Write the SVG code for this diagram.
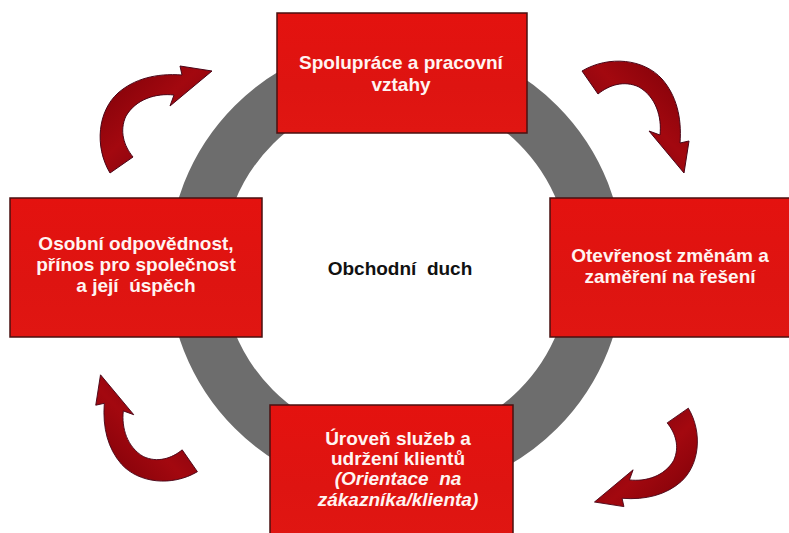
<svg xmlns="http://www.w3.org/2000/svg" width="789" height="533" viewBox="0 0 789 533">
<defs>
<linearGradient id="boxg" x1="0" y1="0" x2="0" y2="1">
<stop offset="0" stop-color="#e4120f"/>
<stop offset="0.6" stop-color="#de1411"/>
<stop offset="1" stop-color="#e01612"/>
</linearGradient>
<linearGradient id="arrg" x1="0" y1="0" x2="1" y2="1">
<stop offset="0" stop-color="#7a0008"/>
<stop offset="0.45" stop-color="#a3080f"/>
<stop offset="1" stop-color="#6a0010"/>
</linearGradient>
<path id="arrow" d="M -46,52 C -62,25 -58,-10 -38,-28 C -22,-42 0,-48 26,-46 L 24,-55 L 56,-50 L 14,-15 L 18,-26 C 0,-28 -20,-22 -30,-5 C -37,10 -32,25 -23,36 Z"/>
</defs>
<style>
.box{fill:url(#boxg);stroke:#4a1010;stroke-width:1.5}
.bt{font-family:"Liberation Sans",Arial,sans-serif;font-weight:bold;font-size:19px;fill:#fff4f2;text-anchor:middle;white-space:pre}
.it{font-style:italic}
.ct{font-family:"Liberation Sans",Arial,sans-serif;font-weight:bold;font-size:19px;fill:#111;text-anchor:middle;white-space:pre}
.arr{fill:url(#arrg);stroke:#4a0618;stroke-width:1}
</style>
<rect width="789" height="533" fill="#ffffff"/>
<g id="ring">
<circle cx="396" cy="267" r="201" fill="none" stroke="#6d6d6d" stroke-width="54"/>
</g>
<g id="connectors">
<use href="#arrow" class="arr" transform="translate(156,121)"/>
<use href="#arrow" class="arr" transform="translate(634,117) rotate(90)"/>
<use href="#arrow" class="arr" transform="translate(646,456) rotate(180) scale(0.92)"/>
<use href="#arrow" class="arr" transform="translate(148,428) rotate(270) scale(0.95)"/>
</g>
<g id="center">
<text class="ct" x="400" y="275">Obchodní  duch</text>
</g>
<g id="top">
<rect class="box" x="277" y="13" width="250" height="120"/>
<text class="bt" x="401" y="69">Spolupráce a pracovní</text>
<text class="bt" x="401" y="91">vztahy</text>
</g>
<g id="left">
<rect class="box" x="10" y="198" width="252" height="139"/>
<text class="bt" x="136" y="250">Osobní odpovědnost,</text>
<text class="bt" x="136" y="271">přínos pro společnost</text>
<text class="bt" x="136" y="292">a její  úspěch</text>
</g>
<g id="right">
<rect class="box" x="550" y="198" width="245" height="139"/>
<text class="bt" x="670" y="262">Otevřenost změnám a</text>
<text class="bt" x="670" y="283">zaměření na řešení</text>
</g>
<g id="bottom">
<rect class="box" x="270" y="405" width="243" height="135"/>
<text class="bt" x="398" y="445">Úroveň služeb a</text>
<text class="bt" x="398" y="465">udržení klientů</text>
<text class="bt it" x="398" y="485">(Orientace  na</text>
<text class="bt it" x="398" y="506">zákazníka/klienta)</text>
</g>
</svg>
